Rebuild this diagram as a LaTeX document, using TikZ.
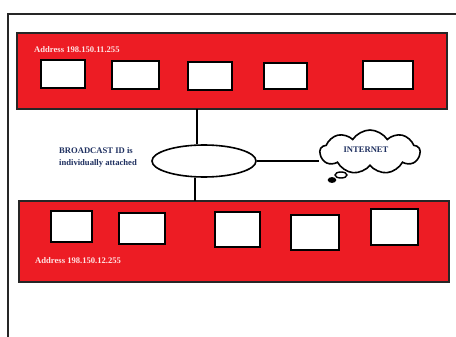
\documentclass[tikz,border=0pt]{standalone}
\usepackage{fontspec}
\setmainfont{Liberation Serif}
\usetikzlibrary{shapes.geometric,shapes.symbols}
\definecolor{bandred}{HTML}{ED1C24}
\definecolor{lightpink}{HTML}{FFE4E4}
\definecolor{navytext}{HTML}{1F3060}
\begin{document}
\begin{tikzpicture}[x=1pt,y=-1pt,
  band/.style={fill=bandred,draw=black!85,line width=1.6pt},
  host/.style={fill=white,draw=black,line width=2.2pt},
  conn/.style={draw=black,line width=1.6pt},
  addr/.style={text=lightpink,font=\bfseries\fontsize{8.6}{10}\selectfont,anchor=west,inner sep=0pt},
  lbl/.style={text=navytext,font=\bfseries\fontsize{8.6}{12}\selectfont,align=left,inner sep=0pt}]
\useasboundingbox (0,0) rectangle (456,337);
% outer frame
\draw[line width=1.6pt,black!85] (8,337) -- (8,14) -- (458,14);
% top band
\path[band] (17,33) rectangle (447,109);
\coordinate (topbot) at (197,109);
\node[addr] (a1) at (34,50) {Address 198.150.11.255};
\path[host] (41,60) rectangle (85,88);
\path[host] (112,61) rectangle (159,89);
\path[host] (188,62) rectangle (232,90);
\path[host] (264,63) rectangle (307,89);
\path[host] (363,61) rectangle (413,89);
% bottom band
\path[band] (19,201) rectangle (449,282);
\coordinate (bottop) at (195,201);
\node[addr] (a2) at (35,261) {Address 198.150.12.255};
\path[host] (51,211) rectangle (92,242);
\path[host] (119,213) rectangle (165,244);
\path[host] (215,212) rectangle (260,247);
\path[host] (291,215) rectangle (339,250);
\path[host] (371,209) rectangle (418,245);
% ellipse
\node[ellipse,draw=black,line width=1.6pt,fill=white,minimum width=104pt,minimum height=32pt,inner sep=0pt] (hub) at (204,161) {};
\node[lbl] (bl) at (98,157.5) {BROADCAST ID is\\individually attached};
% cloud
\node[cloud,draw=black,line width=1.6pt,fill=white,cloud puffs=9,cloud puff arc=115,aspect=2.3,minimum width=100pt,minimum height=44pt,inner sep=0pt] (inet) at (370,152) {};
\node[text=navytext,font=\bfseries\fontsize{8.6}{10}\selectfont] (it) at (366,150) {INTERNET};
\draw[line width=1.4pt,fill=white] (341,175) ellipse (6pt and 3pt);
\draw[line width=1.4pt,fill=black] (332,180) ellipse (3.5pt and 2.2pt);
% connectors
\draw[conn] (topbot) -- (hub.north -| topbot);
\draw[conn] (hub.south -| bottop) -- (bottop);
\draw[conn] (hub.east) -- (inet.west |- hub.east);
\end{tikzpicture}
\end{document}
